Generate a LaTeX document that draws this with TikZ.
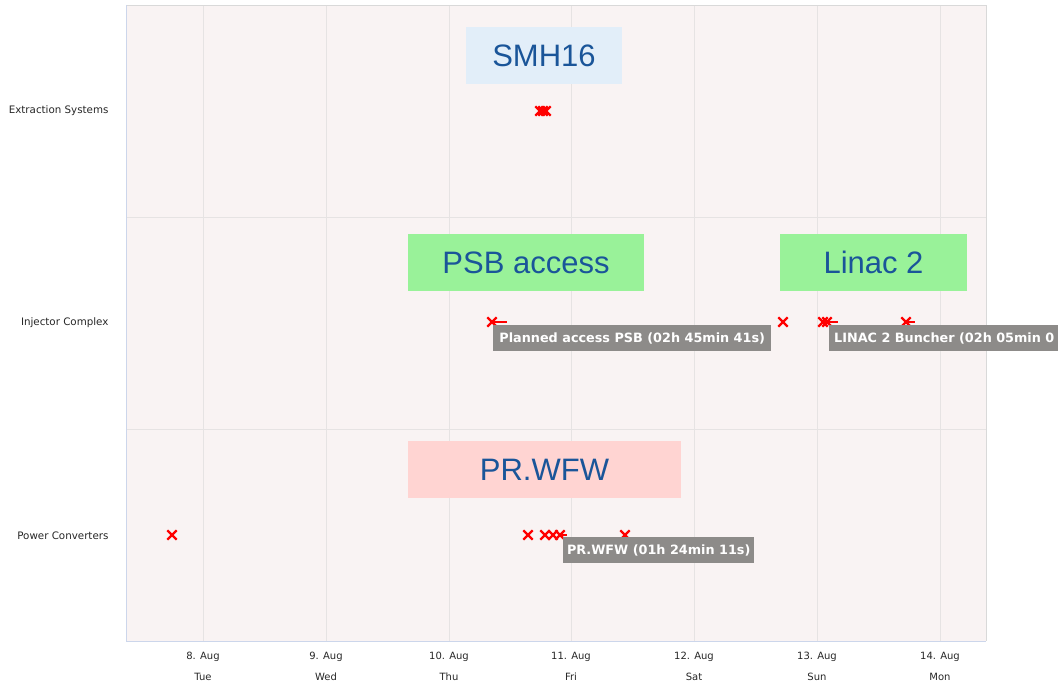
\documentclass[tikz,border=0pt]{standalone}
\usepackage{fontspec}
\usepackage{xcolor}
\usepackage{tikz}
\usetikzlibrary{shapes.misc}
\setmainfont{Liberation Sans}
\newfontfamily\lucida{DejaVu Sans}

\definecolor{plotbg}{HTML}{F9F3F3}
\definecolor{gridcol}{HTML}{E6E3E3}
\definecolor{axiscol}{HTML}{CCD6EB}
\definecolor{bannertext}{HTML}{1A5599}
\definecolor{bannerblue}{HTML}{E2EEF9}
\definecolor{bannergreen}{HTML}{99F299}
\definecolor{bannerpink}{HTML}{FFD4D2}
\definecolor{tipgray}{HTML}{8D8B89}

\begin{document}
\begin{tikzpicture}[x=1pt,y=-1pt,
    banner/.style={minimum height=57pt,inner sep=0pt,text=bannertext,font=\fontsize{31}{36}\selectfont},
    tip/.style={fill=tipgray,text=white,minimum height=26pt,inner sep=0pt,font=\lucida\bfseries\fontsize{12.8}{15}\selectfont},
    cat/.style={anchor=east,font=\lucida\fontsize{10.3}{12}\selectfont,text=black!85},
    day/.style={font=\lucida\fontsize{10}{12}\selectfont,text=black!85},
    xmark/.style={cross out,draw=red,line width=2.3pt,minimum size=7pt,inner sep=0pt},
    tail/.style={draw=red,line width=2.3pt}]
    \useasboundingbox (0,0) rectangle (1058,684);
    % Plot area
    \fill[plotbg] (126,5) rectangle (986,641);
    % Grid: rows and days
    \draw[gridcol] (126,217) -- (986,217);
    \draw[gridcol] (126,429) -- (986,429);
    \foreach \x/\n/\w in {203/8/Tue,326/9/Wed,449/10/Thu,571/11/Fri,694/12/Sat,817/13/Sun,940/14/Mon}{
        \draw[gridcol] (\x,5) -- (\x,641);
        \node[day] (d\n) at (\x,657) {\n. Aug};
        \node[day] (w\n) at (\x,677) {\w};
    }
    % Frame
    \draw[black!15] (126,5) -- (986,5) -- (986,641);
    \draw[axiscol] (126,5) -- (126,641) -- (986,641);
    % Categories
    \node[cat] (ext) at (112,111) {Extraction Systems};
    \node[cat] (inj) at (112,323) {Injector Complex};
    \node[cat] (pow) at (112,536) {Power Converters};
    % Banners
    \node[banner,fill=bannerblue,minimum width=156pt] (smh) at (544,56) {SMH16};
    \node[banner,fill=bannergreen,minimum width=236pt] (psb) at (526,262.5) {PSB access};
    \node[banner,fill=bannergreen,minimum width=187pt] (linac) at (873.5,262.5) {Linac 2};
    \node[banner,fill=bannerpink,minimum width=273pt] (wfw) at (544.5,469.5) {PR.WFW};
    % Markers: extraction
    \node[xmark] (e1) at (540,111) {};
    \node[xmark] (e2) at (543,111) {};
    \node[xmark] (e3) at (546,111) {};
    % Markers: injector
    \node[xmark] (i1) at (492,322) {};
    \coordinate (i1t) at (507,322);
    \draw[tail] (i1.center) -- (i1t);
    \node[xmark] (i2) at (783,322) {};
    \node[xmark] (i3) at (823,322) {};
    \node[xmark] (i4) at (827,322) {};
    \coordinate (i4t) at (838,322);
    \draw[tail] (i4.center) -- (i4t);
    \node[xmark] (i5) at (906,322) {};
    \coordinate (i5t) at (915,322);
    \draw[tail] (i5.center) -- (i5t);
    % Markers: power converters
    \node[xmark] (p1) at (172,535) {};
    \node[xmark] (p2) at (528,535) {};
    \node[xmark] (p3) at (545,535) {};
    \node[xmark] (p4) at (553,535) {};
    \node[xmark] (p5) at (560,535) {};
    \coordinate (p5t) at (567,535);
    \draw[tail] (p5.center) -- (p5t);
    \node[xmark] (p6) at (625,535) {};
    % Tooltips
    \node[tip,anchor=north west,minimum width=278pt] (tpsb) at (493,325) {Planned access PSB (02h 45min 41s)};
    \node[tip,anchor=north west,inner xsep=5pt] (tlinac) at (829,325) {LINAC 2 Buncher (02h 05min 0};
    \node[tip,anchor=north west,minimum width=191pt] (twfw) at (563,537) {PR.WFW (01h 24min 11s)};
\end{tikzpicture}
\end{document}
